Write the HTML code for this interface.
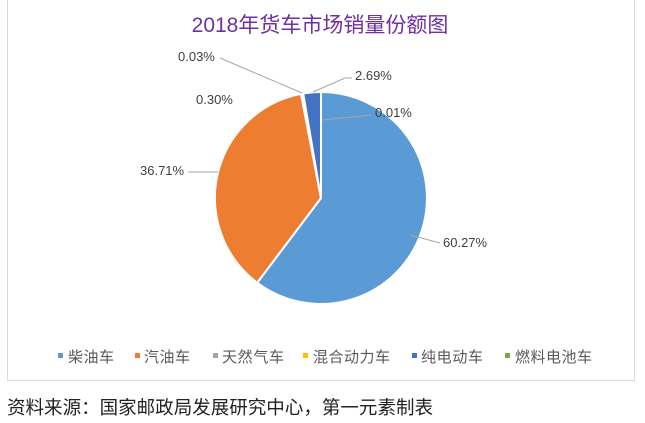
<!DOCTYPE html>
<html><head><meta charset="utf-8"><style>
body{margin:0;background:#fff;width:645px;height:418px;overflow:hidden}
svg text{font-family:"Liberation Sans","Noto Sans CJK SC",sans-serif}
</style></head><body>
<svg width="645" height="418" xmlns="http://www.w3.org/2000/svg">
<rect x="7.5" y="-1" width="627" height="381.5" fill="#fff" stroke="#d9d9d9"/>
<text x="320" y="32" text-anchor="middle" font-size="21" fill="#7030a0">2018年货车市场销量份额图</text>
<g stroke="#fff" stroke-width="2">
<path d="M321,198 L321,92 A106,106 0 1 1 257.2,282.7 Z" fill="#5b9bd5"/>
<path d="M321,198 L257.2,282.7 A106,106 0 0 1 301,93.9 Z" fill="#ed7d31"/>
<path d="M321,198 L301,93.9 A106,106 0 0 1 303,93.5 Z" fill="#a5a5a5"/>
<path d="M321,198 L303.2,93.5 A106,106 0 0 1 321,92 Z" fill="#4472c4"/>
</g>
<g stroke="#a6a6a6" stroke-width="1" fill="none">
<polyline points="220,58 302,93"/>
<polyline points="313,92 345,78 352,78"/>
<polyline points="322,120 372,115"/>
<polyline points="410,235 440,243"/>
<polyline points="188,172 218,172"/>
</g>
<g font-size="13" fill="#404040">
<text x="178" y="61">0.03%</text>
<text x="355" y="80">2.69%</text>
<text x="196" y="104">0.30%</text>
<text x="375" y="117">0.01%</text>
<text x="140" y="175">36.71%</text>
<text x="443" y="247">60.27%</text>
</g>
<g font-size="15" fill="#595959">
<rect x="58" y="353" width="5" height="5" fill="#5b9bd5"/><text x="68" y="362" textLength="46">柴油车</text>
<rect x="135" y="353" width="5" height="5" fill="#ed7d31"/><text x="144" y="362" textLength="46">汽油车</text>
<rect x="213" y="353" width="5" height="5" fill="#a5a5a5"/><text x="222" y="362" textLength="62">天然气车</text>
<rect x="303" y="353" width="5" height="5" fill="#ffc000"/><text x="313" y="362" textLength="77">混合动力车</text>
<rect x="412" y="353" width="5" height="5" fill="#4472c4"/><text x="421" y="362" textLength="62">纯电动车</text>
<rect x="505" y="353" width="5" height="5" fill="#70ad47"/><text x="515" y="362" textLength="77">燃料电池车</text>
</g>
<text x="7" y="414" font-size="18.5" fill="#222" textLength="426">资料来源：国家邮政局发展研究中心，第一元素制表</text>
</svg>
</body></html>
